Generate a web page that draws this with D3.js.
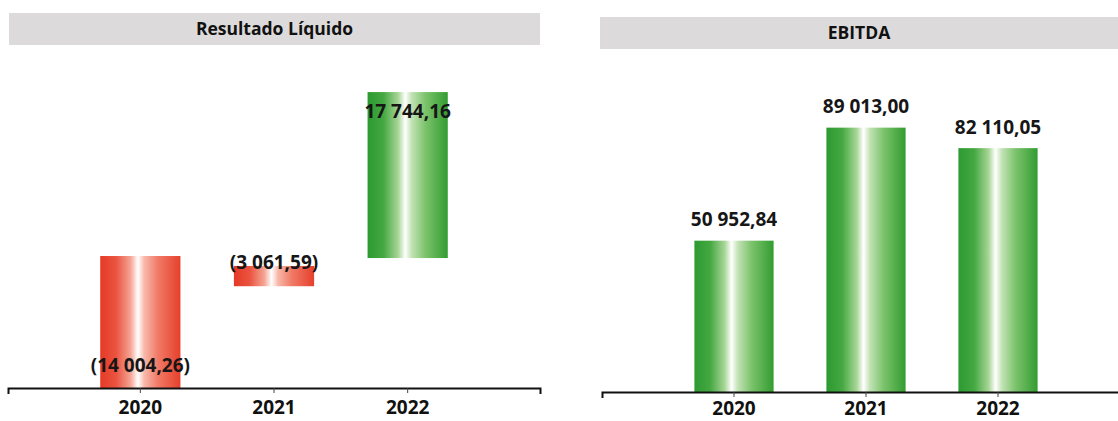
<!DOCTYPE html>
<html>
<head>
<meta charset="utf-8">
<script src="https://cdn.jsdelivr.net/npm/d3@7"></script>
<style>
  body { margin: 0; background: #fff; }
  svg { display: block; font-family: "Open Sans", sans-serif; }
</style>
</head>
<body>
<script>
// data
var years = ["2020", "2021", "2022"];

var resultTitle = "Resultado Líquido";
var resultValues = [-14004.26, -3061.59, 17744.16];
// floating bars: where each bar starts and ends (same units as the values)
var resultBarFrom = [0, 10800, 13790];
var resultBarTo = [14004.26, 12950, 31400];

var ebitdaTitle = "EBITDA";
var ebitdaValues = [50952.84, 89013.00, 82110.05];

var W = 1118, H = 421;

var svg = d3.select("body").append("svg")
    .attr("width", W)
    .attr("height", H);

var defs = svg.append("defs");

var addGrad = function(id, stops)
{
    var g = defs.append("linearGradient")
        .attr("id", id)
        .attr("x1", "0%").attr("x2", "100%")
        .attr("y1", "0%").attr("y2", "0%");
    g.selectAll("stop")
        .data(stops)
        .enter()
        .append("stop")
        .attr("offset", function(d) { return d[0]; })
        .attr("stop-color", function(d) { return d[1]; });
};
addGrad("red", [
    [0, "#e53a26"], [0.2, "#ea5440"], [0.38, "#f5a594"], [0.47, "#ffffff"],
    [0.55, "#f8b8aa"], [0.72, "#f07a66"], [1, "#e6402c"]
]);
addGrad("green", [
    [0, "#2c9a30"], [0.2, "#45a842"], [0.38, "#a6d595"], [0.47, "#ffffff"],
    [0.55, "#c2e2b4"], [0.72, "#7cc36c"], [1, "#329c30"]
]);

var pt = d3.formatLocale({decimal: ",", thousands: " ", grouping: [3], currency: ["", ""]});
var fmt = pt.format(",.2f");
var label = function(v)
{
    return v < 0 ? "(" + fmt(-v) + ")" : fmt(v);
};

var drawTitle = function(x0, x1, y0, y1, text)
{
    svg.append("rect")
        .attr("x", x0).attr("y", y0)
        .attr("width", x1 - x0).attr("height", y1 - y0)
        .attr("fill", "#dcdada");
    svg.append("text")
        .attr("x", (x0 + x1) / 2)
        .attr("y", (y0 + y1) / 2)
        .attr("dy", "0.35em")
        .attr("text-anchor", "middle")
        .attr("font-size", 17.5)
        .attr("font-weight", "bold")
        .attr("fill", "#111")
        .text(text);
};

var drawAxis = function(x, base, pad)
{
    var g = svg.append("g")
        .attr("transform", "translate(0," + base + ")")
        .call(d3.axisBottom(x).tickSize(5).tickSizeOuter(6).tickPadding(pad));
    g.select(".domain").attr("stroke", "#111").attr("stroke-width", 2);
    g.selectAll(".tick line").attr("stroke", "#444");
    g.selectAll("text")
        .attr("font-size", 19)
        .attr("font-weight", "bold")
        .attr("fill", "#111")
        .attr("font-family", "'Open Sans', sans-serif");
};

// ---- left: Resultado Líquido
drawTitle(9, 540, 13, 45, resultTitle);

var x1 = d3.scaleBand()
    .domain(years)
    .range([8, 540])
    .paddingInner(0.4)
    .paddingOuter(0.69);

var y1 = d3.scaleLinear()
    .domain([0, 33000])
    .range([388, 77]);

svg.append("g").selectAll("rect")
    .data(years)
    .enter()
    .append("rect")
    .attr("x", function(d) { return x1(d); })
    .attr("width", x1.bandwidth())
    .attr("y", function(d, i) { return y1(resultBarTo[i]); })
    .attr("height", function(d, i) { return y1(resultBarFrom[i]) - y1(resultBarTo[i]); })
    .attr("fill", function(d, i) { return resultValues[i] < 0 ? "url(#red)" : "url(#green)"; });

var resultLabelY = function(i)
{
    if (i == 0) return y1(resultBarFrom[i]) - 23;
    if (i == 1) return y1(resultBarTo[i]) - 4;
    return y1(resultBarTo[i]) + 19;
};

svg.append("g").selectAll("text")
    .data(years)
    .enter()
    .append("text")
    .attr("x", function(d) { return x1(d) + x1.bandwidth() / 2; })
    .attr("y", function(d, i) { return resultLabelY(i); })
    .attr("dy", "0.35em")
    .attr("text-anchor", "middle")
    .attr("font-size", 19)
    .attr("font-weight", "bold")
    .attr("fill", "#161616")
    .text(function(d, i) { return label(resultValues[i]); });

drawAxis(x1, 388, 8);

// ---- right: EBITDA
drawTitle(600, 1118, 17, 49, ebitdaTitle);

var x2 = d3.scaleBand()
    .domain(years)
    .range([602, 1130])
    .paddingInner(0.4)
    .paddingOuter(0.7);

var y2 = d3.scaleLinear()
    .domain([0, 100000])
    .range([392, 95]);

svg.append("g").selectAll("rect")
    .data(ebitdaValues)
    .enter()
    .append("rect")
    .attr("x", function(d, i) { return x2(years[i]); })
    .attr("width", x2.bandwidth())
    .attr("y", function(d) { return y2(d); })
    .attr("height", function(d) { return y2(0) - y2(d); })
    .attr("fill", "url(#green)");

svg.append("g").selectAll("text")
    .data(ebitdaValues)
    .enter()
    .append("text")
    .attr("x", function(d, i) { return x2(years[i]) + x2.bandwidth() / 2; })
    .attr("y", function(d) { return y2(d) - 21; })
    .attr("dy", "0.35em")
    .attr("text-anchor", "middle")
    .attr("font-size", 19)
    .attr("font-weight", "bold")
    .attr("fill", "#161616")
    .text(function(d) { return label(d); });

drawAxis(x2, 392, 5);
</script>
</body>
</html>
